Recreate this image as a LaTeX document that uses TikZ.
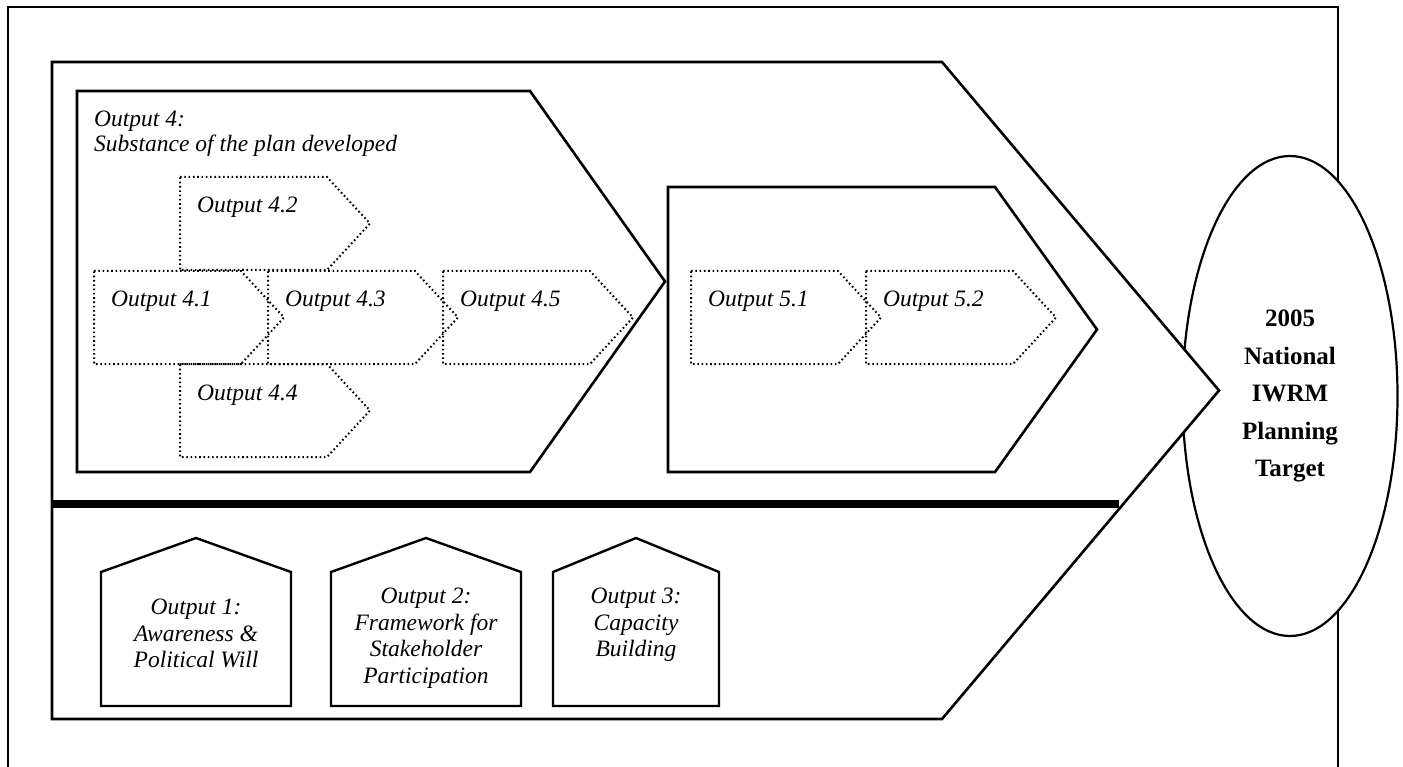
\documentclass[tikz,border=0pt]{standalone}
\usepackage{fontspec}
\setmainfont{Liberation Serif}
\usetikzlibrary{shapes.geometric}
\begin{document}
\begin{tikzpicture}
  [
    x=1pt, y=-1pt,
    every node/.style={inner sep=0pt},
    outerframe/.style={line width=2.6pt},
    chevron/.style={draw, line width=2.6pt, fill=white},
    dotchevron/.style={line width=2pt, dash pattern=on 1.6pt off 2.7pt},
    house/.style={draw, line width=2.4pt},
    outlabel/.style={font=\fontsize{23.5}{25}\selectfont\itshape, align=left},
    houselabel/.style={font=\fontsize{23.5}{26.5}\selectfont\itshape, align=center, anchor=north},
    target/.style={ellipse, draw, line width=2.2pt, fill=white, minimum width=215pt,
      minimum height=480pt, align=center, font=\fontsize{25}{37.5}\selectfont\bfseries}
  ]
  \useasboundingbox (0,0) rectangle (1403,767);
  \draw[outerframe] (8,767) -- (8,7) -- (1338,7) -- (1338,767);
  \node[target] (goal) at (1290,396) {2005\\National\\IWRM\\Planning\\Target};
  \draw[chevron] (52,62) -- (942,62) -- (1219,390.5) -- (942,719) -- (52,719) -- cycle;
  \draw[line width=8pt] (52,504) -- (1119,504);
  \draw[chevron] (77,91) -- (530,91) -- (665,281.5) -- (530,472) -- (77,472) -- cycle;
  \draw[chevron] (668,187) -- (995,187) -- (1097,329.5) -- (995,472) -- (668,472) -- cycle;
  \node[outlabel, anchor=north west] (out4) at (94,111) {Output 4:\\Substance of the plan developed};
  \foreach \name/\x/\y/\txt in {o41/94/271/4.1, o42/180/177/4.2, o43/268/271/4.3,
    o44/180/364/4.4, o45/443/271/4.5, o51/691/271/5.1, o52/866/271/5.2}
  {
    \draw[dotchevron] (\x,\y) -- ++(147,0) -- ++(43,46.5) -- ++(-43,46.5) -- ++(-147,0) -- cycle;
    \node[outlabel, anchor=base west] (\name) at (\x+17,\y+36) {Output \txt};
  }
  \foreach \l/\r in {101/291, 331/521, 553/719}
    \draw[house] (\l,706) -- (\l,572) -- ({(\l+\r)/2},538) -- (\r,572) -- (\r,706) -- cycle;
  \node[houselabel] (o1) at (196,599) {Output 1:\\Awareness \&\\Political Will};
  \node[houselabel] (o2) at (426,588) {Output 2:\\Framework for\\Stakeholder\\Participation};
  \node[houselabel] (o3) at (636,588) {Output 3:\\Capacity\\Building};
\end{tikzpicture}
\end{document}
